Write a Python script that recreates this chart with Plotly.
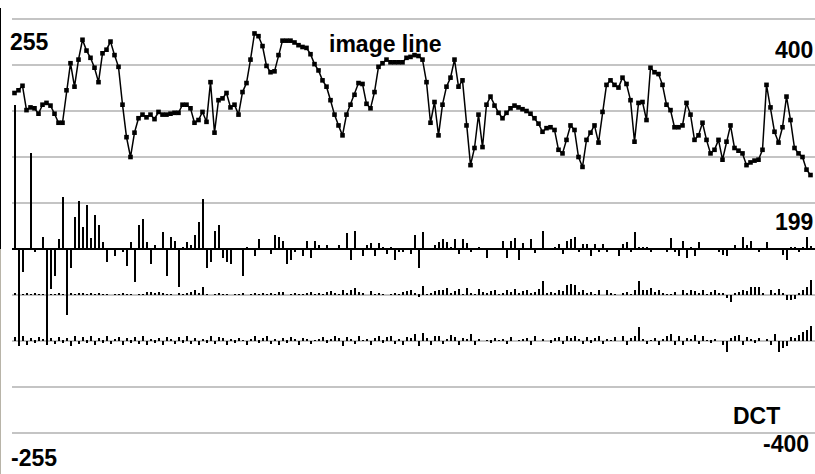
import plotly.graph_objects as go

# Sample index along the scan line (200 samples, 0..199)
n_samples = 200
idx = list(range(n_samples))

# Grey levels of the image line
image_line = [
    173, 176, 181, 154, 157, 156, 150, 160, 162, 159,
    150, 140, 140, 176, 206, 180, 210, 232, 220, 212,
    201, 185, 217, 221, 230, 215, 202, 160, 124, 102,
    129, 145, 149, 146, 149, 144, 152, 149, 149, 150,
    151, 151, 160, 160, 156, 140, 143, 152, 141, 185,
    129, 165, 167, 173, 157, 160, 149, 174, 184, 210,
    239, 236, 225, 203, 196, 197, 215, 231, 231, 231,
    229, 226, 224, 223, 216, 205, 198, 187, 180, 165,
    149, 137, 126, 149, 160, 171, 184, 183, 161, 156,
    174, 202, 206, 210, 207, 207, 207, 207, 212, 213,
    215, 214, 210, 185, 140, 163, 126, 160, 180, 190,
    210, 180, 187, 137, 93, 112, 149, 113, 160, 169,
    159, 151, 145, 151, 156, 159, 157, 155, 153, 150,
    145, 139, 130, 134, 135, 132, 110, 106, 121, 137,
    132, 102, 91, 121, 129, 137, 118, 152, 182, 187,
    182, 179, 190, 183, 165, 119, 162, 163, 143, 201,
    196, 194, 182, 160, 154, 135, 135, 137, 162, 149,
    121, 126, 140, 121, 106, 110, 121, 99, 119, 137,
    112, 109, 106, 93, 96, 98, 99, 110, 182, 157,
    130, 118, 135, 169, 143, 112, 106, 102, 88, 82,
]

# DCT coefficients of the line
dct_coeffs = [
    160, -108, -26, 0, 106, -3, 0, 13, -103, -44,
    -30, 11, 58, -73, -21, 35, 53, 24, 49, 12,
    38, 27, 8, -14, 0, -8, 0, -3, -19, 8,
    -37, 27, 33, 8, -17, 4, 0, 19, -30, 13,
    9, -42, 2, 8, 4, 16, 30, 55, -21, -14,
    20, 27, -10, -14, -17, 0, 0, -30, 2, 0,
    -8, 11, 0, 0, -6, 16, 13, 9, -17, -12,
    -3, 0, -8, 9, -10, 9, 4, 0, 4, 0,
    0, 4, 0, 18, -12, 20, 0, -8, 4, 7,
    -8, 7, 2, -6, 2, -12, -3, -3, 0, -6,
    16, -21, 19, 0, 0, 4, 8, 11, 8, 2,
    11, -6, 11, 7, -3, 0, 2, 0, -10, 0,
    0, 0, 9, -10, 9, 12, -12, 7, 0, 11,
    -4, 0, 20, 0, 0, 2, 6, -6, 9, 11,
    13, -3, 6, 6, -8, 6, -3, 6, -3, 0,
    0, -8, 6, 8, -3, 19, 2, 2, 2, -3,
    0, 0, 0, -3, 12, -3, -8, 9, -10, 2,
    -8, 8, 0, 0, 0, 0, -3, -7, -8, 0,
    4, 0, 13, 4, 9, 0, -3, 0, 8, 0,
    0, 0, -7, -12, 2, 2, -3, 2, 13, 3,
]

# Second coefficient row
row2_coeffs = [
    2, 2, 1, 2, 1, 2, 1, 1, 0, 1,
    1, 2, 1, 0, 2, 1, 2, 2, 1, 2,
    1, 2, 1, 1, 0, 1, 1, 2, 1, 1,
    0, 1, 1, 3, 3, 2, 3, 2, 1, 1,
    0, 2, 1, 2, 3, 5, 2, 9, 1, 0,
    1, 2, 1, 1, 0, 1, 1, 2, 0, 1,
    2, 1, 2, 1, 2, 1, 3, 3, 0, 1,
    2, 1, 1, 2, 3, 1, 2, 1, 3, 4,
    2, 1, 5, 2, 6, 8, 3, 2, 0, 4,
    1, 2, 1, 0, 1, 2, 1, 3, 4, 6,
    2, -2, 10, 1, 2, 4, 5, 6, 8, 2,
    4, 7, 1, 8, 2, 1, 7, 3, 2, 4,
    5, 1, 2, 6, 3, 7, 2, 4, 6, 2,
    3, 7, 15, 2, 3, 2, 5, 4, 11, 12,
    11, 3, 5, 2, 3, 1, 6, 0, 5, 2,
    1, 0, 2, 3, 1, 5, 16, 6, 5, 8,
    3, 6, 2, 1, 1, 3, 0, 6, 2, 5,
    4, 2, 6, 1, 3, 5, 2, 2, -3, -8,
    2, 3, 6, 4, 9, 9, 9, 2, 0, 6,
    2, 7, 2, -5, -6, -4, 2, 6, 9, 17,
]

# Third coefficient row
row3_coeffs = [
    4, -3, 5, -4, 3, -2, 4, 2, -5, 3,
    -3, 4, -2, 3, -6, 5, -3, 4, -2, 6,
    -4, 3, -2, 5, -3, 2, 4, -5, 3, -2,
    4, -3, 5, -4, 2, -2, 3, -5, 4, 2,
    -3, 4, -2, 5, -3, 3, -4, 2, -2, 5,
    -3, 4, 3, -5, 2, -2, 3, 1, -4, 2,
    5, -2, 3, 5, -3, 2, -4, 3, -2, 4,
    2, -5, 3, 2, -3, 1, 2, 4, -2, 2,
    6, 3, -6, 4, 2, -3, 5, 1, 2, -4,
    3, 6, -2, 4, 5, -3, 2, -5, 4, 3,
    8, -6, 9, 3, -4, 5, 6, -3, 2, 7,
    4, -5, 3, 2, 8, -4, 2, 0, 1, -2,
    3, 1, 2, -3, 4, 0, 1, 2, 3, -5,
    6, 0, 2, 0, -2, 3, 4, -3, 5, 3,
    6, 2, -3, 4, -2, 3, 5, -3, 2, 1,
    4, 0, 5, -4, 3, 6, 16, 2, -3, 1,
    3, -5, 2, 5, 8, -4, 6, -5, 3, 2,
    7, -3, 5, 1, -2, 2, 0, -4, -12, 3,
    5, 7, -5, 4, 2, -2, 3, 0, 2, -5,
    8, -12, -8, -6, 4, 3, 7, 10, 12, 17,
]

# Baselines of the three coefficient rows (on the grid step of 51)
row_bases = [0, -51, -102]
grid_step = 51

W, H = 815, 474
left_px = 12

fig = go.Figure()

for coeffs, base in zip([dct_coeffs, row2_coeffs, row3_coeffs], row_bases):
    fig.add_trace(go.Bar(
        x=idx, y=coeffs, base=[base] * n_samples,
        width=0.5, marker=dict(color="#000000", line=dict(width=0)),
        hoverinfo="skip", showlegend=False,
    ))

fig.add_trace(go.Scatter(
    x=idx, y=image_line, mode="lines+markers",
    line=dict(color="#000000", width=1.5),
    marker=dict(symbol="square", size=4.6, color="#000000"),
    hoverinfo="skip", showlegend=False,
))

x_lo = -0.625
x_hi = x_lo + (W - left_px) / 4.0
fig.update_xaxes(range=[x_lo, x_hi], domain=[left_px / W, 1],
                 visible=False, showgrid=False, zeroline=False)
fig.update_yaxes(range=[-249.5, 276.1], tick0=0, dtick=grid_step,
                 showgrid=True, gridcolor="#c4c4c4", gridwidth=2,
                 zeroline=True, zerolinecolor="#000000", zerolinewidth=2,
                 showticklabels=False, showline=False, ticks="")

# left axis: dark above the zero line, grey below
fig.add_shape(type="line", xref="paper", yref="paper",
              x0=0, x1=0, y0=1 - 8 / H, y1=1 - 249 / H,
              line=dict(color="#000000", width=2))
fig.add_shape(type="line", xref="paper", yref="paper",
              x0=0, x1=0, y0=1 - 249 / H, y1=0,
              line=dict(color="#b8b4a8", width=2))

font = dict(family="Liberation Sans", size=23, color="#000000", weight="bold")


def label(text, px, py, xanchor):
    fig.add_annotation(text=text, xref="paper", yref="paper",
                       x=(px - left_px) / (W - left_px), y=1 - py / H,
                       xanchor=xanchor, yanchor="middle",
                       showarrow=False, font=font)


label("255", 20, 42, "left")
label("image line", 391, 44, "center")
label("400", 815, 50, "right")
label("199", 815, 222, "right")
label("DCT", 757, 416, "center")
label("-400", 811, 444, "right")
label("-255", 21, 458, "left")

fig.update_layout(
    width=W, height=H, margin=dict(l=0, r=0, t=0, b=0),
    paper_bgcolor="#ffffff", plot_bgcolor="#ffffff",
    barmode="overlay", bargap=0,
)

fig.write_html("out.html")
